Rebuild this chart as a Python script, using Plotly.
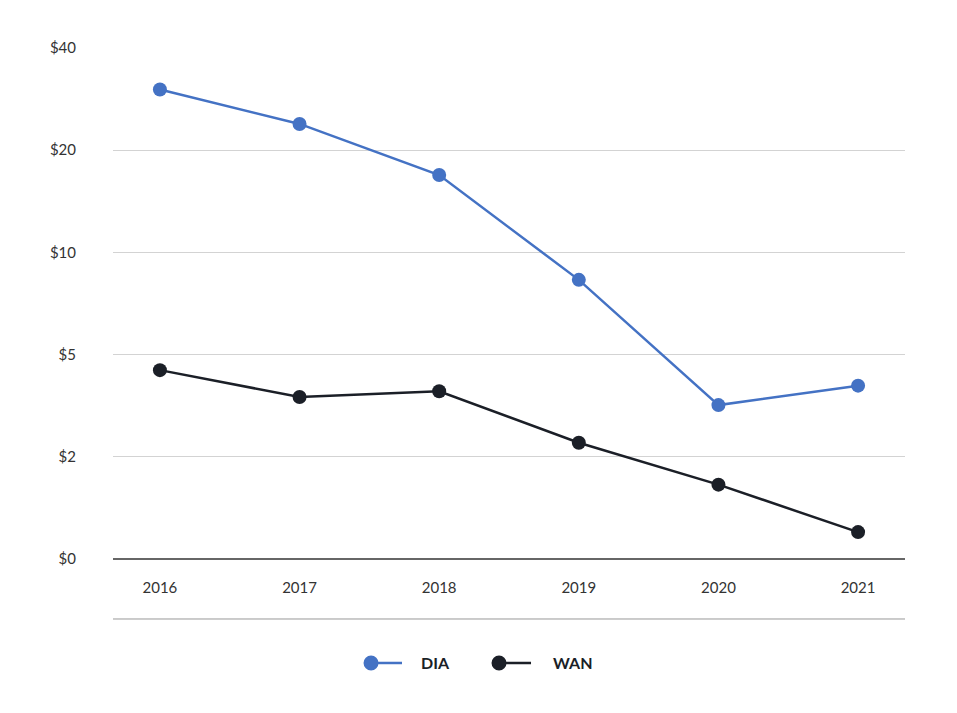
import plotly.graph_objects as go
import math

years = ["2016", "2017", "2018", "2019", "2020", "2021"]
dia = [30.2, 23.9, 16.9, 8.3, 3.55, 4.05]
wan = [4.5, 3.75, 3.9, 2.75, 2.07, 1.5]
tick_vals = [1.25, 2.5, 5, 10, 20, 40]
tick_text = ["$0", "$2", "$5", "$10", "$20", "$40"]

series = [("DIA", dia, "#4472C4"), ("WAN", wan, "#1B1F27")]

fig = go.Figure()
for name, vals, col in series:
    fig.add_trace(go.Scatter(x=years, y=vals, name=name, mode="lines+markers",
                             line=dict(color=col, width=2.5),
                             marker=dict(size=14, color=col)))

# custom legend (marker at left end of the line, as in the reference)
shapes = [
    dict(type="line", xref="paper", yref="paper", x0=0, x1=1, y0=0, y1=0,
         line=dict(color="#333333", width=1.5)),
    dict(type="line", xref="paper", yref="paper", x0=0, x1=1, y0=-0.1174, y1=-0.1174,
         line=dict(color="#999999", width=1)),
]
annotations = []
leg_y = -0.2035
leg_pos = [(0.3258, 0.3649, 0.3864), (0.4874, 0.5278, 0.5530)]
for (name, vals, col), (cx, lx, tx) in zip(series, leg_pos):
    shapes.append(dict(type="line", xref="paper", yref="paper", x0=cx, x1=lx,
                       y0=leg_y, y1=leg_y, line=dict(color=col, width=2.5)))
    shapes.append(dict(type="circle", xref="paper", yref="paper",
                       xsizemode="pixel", ysizemode="pixel", xanchor=cx, yanchor=leg_y,
                       x0=-7.5, x1=7.5, y0=-7.5, y1=7.5,
                       fillcolor=col, line=dict(color=col, width=0)))
    annotations.append(dict(text="<b>%s</b>" % name, xref="paper", yref="paper",
                            x=tx, y=leg_y, xanchor="left", yanchor="middle",
                            showarrow=False,
                            font=dict(size=16, color="#1B1F27", family="Lato, sans-serif")))

fig.update_layout(
    width=957, height=713,
    margin=dict(l=105, r=60, t=40, b=162),
    paper_bgcolor="white", plot_bgcolor="white",
    font=dict(family="Lato, Inter, sans-serif", size=15, color="#333333"),
    showlegend=False,
    xaxis=dict(type="category", range=[-0.336, 5.336], showgrid=False,
               showline=False, ticks="", ticklabelstandoff=18,
               tickfont=dict(size=15, color="#333333")),
    yaxis=dict(type="log", range=[math.log10(1.25), math.log10(40)],
               tickvals=tick_vals, ticktext=tick_text,
               showgrid=True, gridcolor="#D3D3D3", gridwidth=1,
               showline=False, zeroline=False, ticks="", ticklabelstandoff=36,
               tickfont=dict(size=15, color="#333333")),
    shapes=shapes,
    annotations=annotations,
)

fig.write_html("out.html")
